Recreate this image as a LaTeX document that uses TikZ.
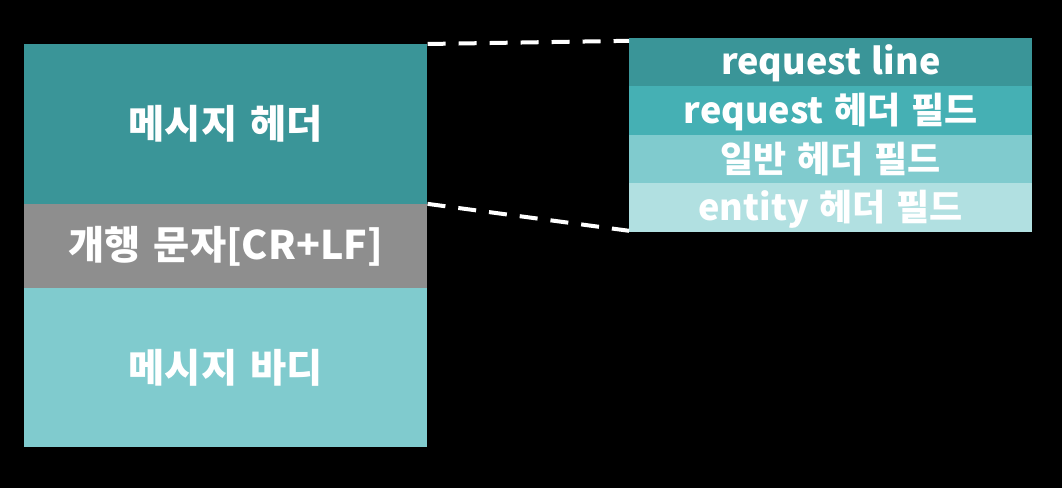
\documentclass[tikz,border=0pt]{standalone}
\usepackage{fontspec}
\newfontfamily\krfont{Noto Sans CJK KR}
\usetikzlibrary{positioning}
\definecolor{tealA}{HTML}{3A9598}
\definecolor{tealB}{HTML}{45B0B4}
\definecolor{tealC}{HTML}{80CBCE}
\definecolor{tealD}{HTML}{B1E0E1}
\definecolor{greyA}{HTML}{8E8E8E}
\newcommand\partfont{\krfont\bfseries\fontsize{29.5}{32}\selectfont
  \spaceskip=0.33em plus 0pt\relax}
\newcommand\fieldfont{\krfont\bfseries\fontsize{27}{29}\selectfont
  \spaceskip=0.3em plus 0pt\relax}
\tikzset{
  part/.style={fill=#1,text=white,inner sep=0pt,minimum width=302.25pt,
    font=\partfont},
  field/.style={fill=#1,text=white,inner sep=0pt,minimum width=302.25pt,
    minimum height=36.4pt,text height=25pt,text depth=5.5pt,font=\fieldfont},
  link/.style={white,line width=3pt,dash pattern=on 13.5pt off 9.75pt}
}
\begin{document}
\begin{tikzpicture}
  % canvas
  \useasboundingbox[fill=black] (0,0) rectangle (796.5pt,-366pt);
  % message
  \node[part=tealA,minimum height=120pt,anchor=north west] (hdr) at (18pt,-33pt) {메시지 헤더};
  \node[part=greyA,minimum height=63pt,below=-0.4pt of hdr] (crlf) {개행 문자[CR+LF]};
  \node[part=tealC,minimum height=119.25pt,below=-0.4pt of crlf] (body) {메시지 바디};
  % header fields
  \node[field=tealA,anchor=north west] (rline) at (471.75pt,-28.1pt) {request line};
  \node[field=tealB,below=-0.4pt of rline] (rfield) {request 헤더 필드};
  \node[field=tealC,below=-0.4pt of rfield] (gfield) {일반 헤더 필드};
  \node[field=tealD,below=-0.4pt of gfield] (efield) {entity 헤더 필드};
  % links
  \draw[link] (hdr.north east) -- ([yshift=-2.5pt]rline.north west);
  \draw[link] ([yshift=0.5pt]hdr.south east) -- ([yshift=1pt]efield.south west);
\end{tikzpicture}
\end{document}
